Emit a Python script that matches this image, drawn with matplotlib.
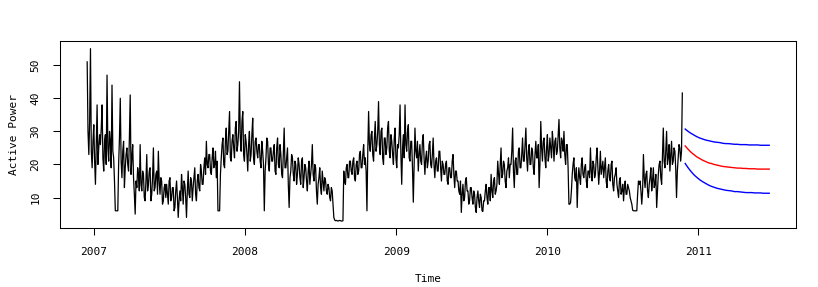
import numpy as np
import matplotlib
matplotlib.use('Agg')
import matplotlib.pyplot as plt

plt.rcParams['font.family'] = ['DejaVu Sans Mono']

# daily active power, read every 2 days off the picture (start 2006-12-16)
start_year = 2006.956
step_days = 2
power = [
    51, 30, 23, 33, 55, 24, 19, 27, 32, 21, 14, 26, 38, 20, 25, 29,     # dec 06
    26, 31, 38, 22, 18, 27, 29, 20, 47, 25, 21, 30, 27, 19, 44, 24,
    22, 15, 6, 6, 6, 6, 20, 28, 40, 21, 16, 24, 27, 13, 19, 23,
    25, 20, 18, 28, 41, 17, 22, 26, 16, 11, 5, 15, 13, 19, 17, 12,
    26, 14, 12, 18, 17, 10, 9, 15, 23, 12, 14, 18, 19, 9, 11, 16,
    25, 12, 13, 17, 18, 11, 24, 15, 11, 16, 15, 8, 9, 13, 14, 10,
    14, 11, 8, 15, 16, 9, 10, 13, 13, 6, 7, 12, 15, 10, 4, 9,
    12, 9, 17, 13, 8, 15, 14, 10, 4, 12, 18, 11, 10, 16, 15, 9,
    13, 16, 19, 11, 9, 15, 17, 13, 12, 20, 18, 14, 14, 19, 22, 17,
    27, 20, 19, 23, 23, 18, 17, 22, 25, 19, 20, 24, 16, 21, 6, 6,
    6, 17, 22, 26, 28, 20, 19, 27, 31, 23, 24, 30, 36, 22, 21, 27,
    29, 25, 22, 31, 33, 24, 26, 30, 45, 28, 24, 33, 36, 23, 21, 29,     # dec 07
    27, 23, 18, 26, 30, 21, 23, 29, 34, 22, 20, 27, 28, 24, 22, 26,
    26, 21, 19, 27, 24, 20, 6, 18, 22, 28, 27, 20, 18, 25, 25, 21,
    21, 24, 26, 18, 17, 25, 28, 20, 19, 26, 23, 17, 16, 24, 31, 19,
    19, 22, 25, 14, 7, 16, 18, 23, 22, 17, 15, 21, 20, 14, 17, 22,
    20, 16, 14, 21, 22, 13, 16, 20, 19, 15, 12, 18, 21, 14, 17, 20,
    26, 17, 15, 20, 19, 12, 8, 14, 16, 19, 13, 11, 18, 15, 12, 16,
    15, 12, 11, 14, 13, 10, 9, 13, 12, 8, 4, 3.2, 3, 3.1, 3, 2.9,
    3, 3.1, 3, 2.9, 2.9, 3, 18, 15, 14, 19, 20, 16, 16, 21, 21, 18,
    17, 21, 22, 16, 15, 20, 21, 17, 18, 23, 24, 19, 19, 23, 26, 20,
    22, 18, 6, 24, 36, 26, 24, 29, 30, 23, 21, 28, 33, 24, 26, 30,
    39, 26, 23, 30, 31, 22, 20, 28, 28, 23, 25, 31, 33, 24, 22, 29,     # dec 08
    27, 23, 20, 28, 31, 22, 19, 26, 25, 29, 38, 23, 14, 25, 29, 22,
    38, 26, 24, 30, 32, 22, 21, 27, 27, 19, 8.6, 20, 31, 24, 22, 27,
    18, 23, 26, 21, 20, 27, 29, 22, 17, 22, 24, 19, 21, 26, 27, 20,
    19, 23, 28, 20, 16, 21, 22, 18, 18, 24, 24, 19, 15, 21, 20, 17,
    17, 20, 21, 15, 14, 19, 19, 16, 16, 21, 23, 17, 13, 18, 18, 15,
    15, 12, 11, 15, 5.5, 11, 14, 9, 10, 15, 16, 12, 12, 8, 9, 13,
    13, 10, 8, 12, 11, 7, 5.5, 10, 12, 9, 7, 11, 10, 6, 5.8, 9,
    9, 12, 14, 10, 8, 13, 13, 9, 17, 12, 10, 15, 16, 11, 12, 14,
    21, 17, 14, 20, 25, 16, 17, 21, 20, 15, 13, 18, 19, 22, 16, 20,
    20, 24, 31, 18, 13, 21, 22, 17, 17, 24, 25, 19, 19, 23, 28, 21,
    21, 26, 31, 22, 18, 24, 26, 20, 20, 25, 24, 19, 17, 23, 27, 22,
    22, 26, 13, 20, 33, 25, 21, 27, 28, 22, 19, 25, 29, 21, 23, 28,     # dec 09
    25, 22, 30, 26, 21, 27, 28, 23, 24, 29, 33.6, 25, 22, 28, 27, 24,
    30, 23, 20, 26, 26, 19, 8, 8, 8.5, 12, 17, 20, 22, 16, 15, 19,
    7, 15, 19, 16, 14, 20, 22, 17, 16, 19, 20, 15, 13, 18, 18, 16,
    25, 18, 15, 21, 20, 16, 17, 22, 25, 19, 14, 18, 24, 17, 19, 21,
    16, 19, 22, 15, 13, 18, 20, 16, 15, 20, 21, 14, 12, 16, 17, 19,
    14, 12, 10, 15, 16, 11, 12, 14, 9, 13, 15, 11, 11, 14, 13, 12,
    10, 9, 8, 6.2, 6, 6, 6, 6, 6, 11, 15, 14, 15, 12, 8, 12,
    23, 16, 13, 17, 18, 12, 10, 14, 16, 19, 12, 15, 19, 13, 14, 17,
    7, 12, 17, 20, 21, 16, 14, 22, 31, 21, 19, 24, 30, 20, 22, 26,
    18, 23, 27, 20, 21, 25, 24, 19, 10, 18, 22, 26, 25, 21, 24, 41.6,
]

# forecast, weekly points
fc_start = 2010.912
fc_step_days = 7
fc_mean = [25.6, 24.6, 23.7, 23.0, 22.3, 21.8, 21.3, 20.9, 20.5, 20.3,
           20.0, 19.8, 19.6, 19.4, 19.3, 19.2, 19.1, 19.0, 18.9, 18.9,
           18.8, 18.8, 18.7, 18.7, 18.7, 18.6, 18.6, 18.6, 18.6, 18.6]
fc_upper = [30.7, 30.0, 29.4, 28.9, 28.4, 28.0, 27.7, 27.4, 27.2, 27.0,
            26.8, 26.7, 26.6, 26.4, 26.3, 26.3, 26.2, 26.1, 26.1, 26.0,
            26.0, 26.0, 25.9, 25.9, 25.9, 25.9, 25.8, 25.8, 25.8, 25.8]
fc_lower = [20.3, 19.0, 17.9, 16.9, 16.1, 15.4, 14.8, 14.3, 13.8, 13.4,
            13.1, 12.8, 12.6, 12.4, 12.2, 12.1, 12.0, 11.8, 11.8, 11.7,
            11.6, 11.5, 11.5, 11.5, 11.4, 11.4, 11.4, 11.3, 11.3, 11.3]

years = [2007, 2008, 2009, 2010, 2011]
yticks = [10, 20, 30, 40, 50]

t = start_year + np.arange(len(power)) * step_days / 365.25
tf = fc_start + np.arange(len(fc_mean)) * fc_step_days / 365.25

fig = plt.figure(figsize=(8.18, 2.87), dpi=100)
ax = fig.add_axes([0.0733, 0.2056, 0.8998, 0.6514])

ax.plot(t, power, color='black', lw=0.9)
ax.plot(tf, fc_upper, color='blue', lw=1.0)
ax.plot(tf, fc_lower, color='blue', lw=1.0)
ax.plot(tf, fc_mean, color='red', lw=1.0)

ax.set_xlim(2006.776, 2011.645)
ax.set_ylim(0.8, 57.3)
ax.set_xticks(years)
ax.set_xticklabels([str(y) for y in years])
ax.set_yticks(yticks)
ax.set_yticklabels([str(v) for v in yticks], rotation=90, va='center')
ax.tick_params(direction='out', length=5, width=0.75, labelsize=8, pad=9)
for s in ax.spines.values():
    s.set_linewidth(0.75)

ax.set_xlabel('Time', fontsize=8, labelpad=12)
ax.set_ylabel('Active Power', fontsize=8, labelpad=8)

fig.savefig('out.png', dpi=100)
